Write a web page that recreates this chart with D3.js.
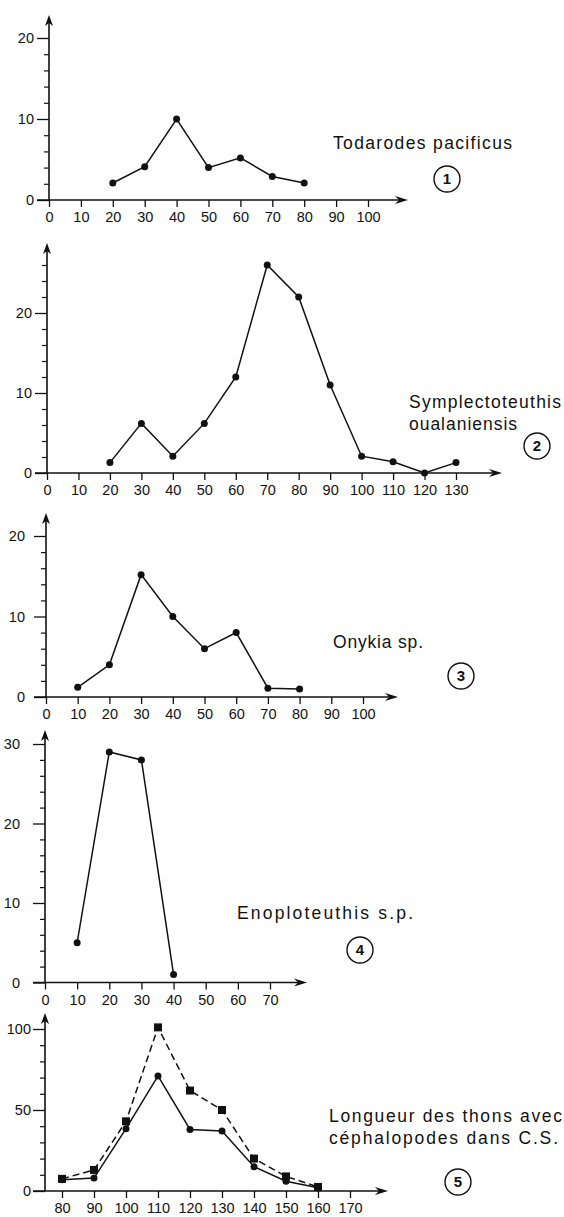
<!DOCTYPE html>
<html><head><meta charset="utf-8">
<script src="https://cdn.jsdelivr.net/npm/d3@7"></script>
<style>
body{margin:0;background:#fff}
svg{display:block}
text{font-family:"Liberation Sans",Arial,Helvetica,sans-serif;fill:#111}
</style>
</head><body>
<svg id="chart" width="564" height="1217"></svg>
<script>
// ---------- DATA ----------
const speciesLabels = [
  ["Todarodes pacificus"],
  ["Symplectoteuthis", "oualaniensis"],
  ["Onykia sp."],
  ["Enoploteuthis s.p."],
  ["Longueur des thons avec", "céphalopodes dans C.S."]
];
const panelNumbers = ["1", "2", "3", "4", "5"];

const p1Lengths = [20, 30, 40, 50, 60, 70, 80];
const p1Counts  = [2.1, 4.1, 10, 4, 5.2, 2.9, 2.1];
const p1XTicks  = [0, 10, 20, 30, 40, 50, 60, 70, 80, 90, 100];
const p1YTicks  = [0, 10, 20];

const p2Lengths = [20, 30, 40, 50, 60, 70, 80, 90, 100, 110, 120, 130];
const p2Counts  = [1.3, 6.2, 2.1, 6.2, 12, 26, 22, 11, 2.1, 1.4, 0, 1.3];
const p2XTicks  = [0, 10, 20, 30, 40, 50, 60, 70, 80, 90, 100, 110, 120, 130];
const p2YTicks  = [0, 10, 20];

const p3Lengths = [10, 20, 30, 40, 50, 60, 70, 80];
const p3Counts  = [1.2, 4, 15.2, 10, 6, 8, 1.1, 1];
const p3XTicks  = [0, 10, 20, 30, 40, 50, 60, 70, 80, 90, 100];
const p3YTicks  = [0, 10, 20];

const p4Lengths = [10, 20, 30, 40];
const p4Counts  = [5, 29, 28, 1];
const p4XTicks  = [0, 10, 20, 30, 40, 50, 60, 70];
const p4YTicks  = [0, 10, 20, 30];

const p5Lengths = [80, 90, 100, 110, 120, 130, 140, 150, 160];
const p5Total   = [7.5, 13, 43, 101, 62, 50, 20, 9, 2.5];   // squares, dashed
const p5WithCeph = [7, 8, 38.5, 71, 38, 37, 15, 6, 2];     // dots, solid
const p5XTicks  = [80, 90, 100, 110, 120, 130, 140, 150, 160, 170];
const p5YTicks  = [0, 50, 100];

// ---------- LAYOUT ----------
const svg = d3.select("#chart");
const INK = "#111";
const TICK_FONT = '"Liberation Sans",Arial,sans-serif';

const panels = [
  { ax: 49, xd: [0, 100], xr: [49, 368], y0: 200, yv: 20, ypx: 38, arrowTop: 15, arrowRight: 408,
    minorStep: 2, minorMax: 20, xTicks: p1XTicks, yTicks: p1YTicks, pad: 6,
    series: [{ x: p1Lengths, y: p1Counts, mark: "dot", dash: null }],
    label: { x: 333, y: [143], w: [179] }, badge: { x: 447, y: 179 } },
  { ax: 47, xd: [0, 130], xr: [47, 456], y0: 473, yv: 20, ypx: 313, arrowTop: 243, arrowRight: 502,
    minorStep: 2, minorMax: 26, xTicks: p2XTicks, yTicks: p2YTicks, pad: 6,
    series: [{ x: p2Lengths, y: p2Counts, mark: "dot", dash: null }],
    label: { x: 409, y: [402, 424], w: [152, 108] }, badge: { x: 537, y: 446 } },
  { ax: 46, xd: [0, 100], xr: [46, 363], y0: 697, yv: 20, ypx: 536, arrowTop: 513, arrowRight: 398,
    minorStep: 2, minorMax: 20, xTicks: p3XTicks, yTicks: p3YTicks, pad: 12,
    series: [{ x: p3Lengths, y: p3Counts, mark: "dot", dash: null }],
    label: { x: 333, y: [642], w: [90] }, badge: { x: 461, y: 676 } },
  { ax: 45, xd: [0, 70], xr: [45, 270], y0: 982.5, yv: 30, ypx: 744, arrowTop: 730, arrowRight: 307,
    minorStep: 2, minorMax: 30, xTicks: p4XTicks, yTicks: p4YTicks, pad: 16,
    series: [{ x: p4Lengths, y: p4Counts, mark: "dot", dash: null }],
    label: { x: 237, y: [913], w: [176] }, badge: { x: 360, y: 950 } },
  { ax: 45, xd: [80, 160], xr: [62, 318], y0: 1191, yv: 100, ypx: 1029, arrowTop: 1013, arrowRight: 388,
    minorStep: 10, minorMax: 100, xTicks: p5XTicks, yTicks: p5YTicks, pad: 5,
    series: [
      { x: p5Lengths, y: p5Total, mark: "square", dash: "7,4" },
      { x: p5Lengths, y: p5WithCeph, mark: "dot", dash: null }
    ],
    label: { x: 329, y: [1116, 1138], w: [233, 229] }, badge: { x: 458, y: 1182 } }
];

panels.forEach((p, i) => {
  const g = svg.append("g");
  const x = d3.scaleLinear().domain(p.xd).range(p.xr);
  const y = d3.scaleLinear().domain([0, p.yv]).range([p.y0, p.ypx]);

  // y axis: minor ticks
  const minor = d3.range(p.minorStep, p.minorMax + 0.01, p.minorStep).filter(v => !p.yTicks.includes(v));
  g.append("g").attr("transform", `translate(${p.ax},0)`)
    .call(d3.axisLeft(y).tickValues(minor).tickSize(5).tickFormat(""))
    .call(s => s.select(".domain").remove())
    .call(s => s.selectAll("line").attr("stroke", INK).attr("stroke-width", 1.2));

  // y axis: major ticks + labels
  g.append("g").attr("transform", `translate(${p.ax},0)`)
    .call(d3.axisLeft(y).tickValues(p.yTicks).tickSize(12).tickPadding(p.pad - 3).tickFormat(d3.format("d")))
    .call(s => s.select(".domain").remove())
    .call(s => s.selectAll("line").attr("stroke", INK).attr("stroke-width", 1.3))
    .call(s => s.selectAll("text").attr("font-size", 14.5).attr("fill", INK)
      .attr("font-family", TICK_FONT));

  // y axis line + arrowhead
  g.append("line").attr("x1", p.ax).attr("x2", p.ax).attr("y1", p.y0).attr("y2", p.arrowTop + 4)
    .attr("stroke", INK).attr("stroke-width", 1.6);
  g.append("path")
    .attr("d", `M${p.ax},${p.arrowTop} L${p.ax - 4},${p.arrowTop + 11} L${p.ax},${p.arrowTop + 8} L${p.ax + 4},${p.arrowTop + 11} Z`)
    .attr("fill", INK);

  // x axis ticks + labels
  g.append("g").attr("transform", `translate(0,${p.y0})`)
    .call(d3.axisBottom(x).tickValues(p.xTicks).tickSize(7).tickPadding(5).tickFormat(d3.format("d")))
    .call(s => s.select(".domain").remove())
    .call(s => s.selectAll("line").attr("stroke", INK).attr("stroke-width", 1.3))
    .call(s => s.selectAll("text").attr("font-size", 14.5).attr("fill", INK)
      .attr("font-family", TICK_FONT));

  // x axis line + arrowhead
  g.append("line").attr("x1", p.ax - 12).attr("x2", p.arrowRight - 6).attr("y1", p.y0).attr("y2", p.y0)
    .attr("stroke", INK).attr("stroke-width", 1.6);
  g.append("path")
    .attr("d", `M${p.arrowRight},${p.y0} L${p.arrowRight - 13},${p.y0 - 4} L${p.arrowRight - 9},${p.y0} L${p.arrowRight - 13},${p.y0 + 4} Z`)
    .attr("fill", INK);

  // series
  p.series.forEach(s => {
    const pts = s.x.map((v, k) => [v, s.y[k]]);
    g.append("path").datum(pts)
      .attr("d", d3.line().x(d => x(d[0])).y(d => y(d[1])))
      .attr("fill", "none").attr("stroke", INK).attr("stroke-width", 1.5)
      .attr("stroke-dasharray", s.dash);
    if (s.mark === "dot") {
      g.selectAll(null).data(pts).enter().append("circle")
        .attr("cx", d => x(d[0])).attr("cy", d => y(d[1])).attr("r", 3.5).attr("fill", INK);
    } else {
      g.selectAll(null).data(pts).enter().append("rect")
        .attr("x", d => x(d[0]) - 4).attr("y", d => y(d[1]) - 4)
        .attr("width", 8).attr("height", 8).attr("fill", INK);
    }
  });

  // species label
  speciesLabels[i].forEach((t, k) => {
    g.append("text").attr("x", p.label.x).attr("y", p.label.y[k]).attr("dy", "0.36em")
      .attr("font-size", 17.5).attr("textLength", p.label.w[k]).attr("lengthAdjust", "spacing")
      .text(t);
  });

  // numbered badge
  g.append("circle").attr("cx", p.badge.x).attr("cy", p.badge.y).attr("r", 13)
    .attr("fill", "none").attr("stroke", INK).attr("stroke-width", 1.4);
  g.append("text").attr("x", p.badge.x).attr("y", p.badge.y).attr("dy", "0.36em")
    .attr("text-anchor", "middle").attr("font-size", 15).attr("font-weight", "bold")
    .attr("font-family", '"Liberation Sans Narrow","Liberation Sans",Arial,sans-serif')
    .text(panelNumbers[i]);
});
</script>
</body></html>
